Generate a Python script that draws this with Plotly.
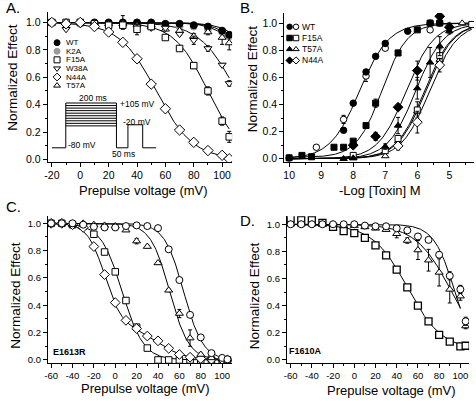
import numpy as np
import plotly.graph_objects as go

W, H = 476, 401
FONT = "Liberation Sans, Arial, sans-serif"

# ---------------- Panel A: prepulse voltage, toxin mutants ----------------
A_V = [-20, -10, 0, 10, 20, 30, 40, 50, 60, 70, 80, 90, 100, 105]
A_WT = [1.0, 0.99, 1.0, 1.0, 1.0, 1.0, 1.0, 1.0, 0.99, 0.99, 0.98, 0.97, 0.94, 0.91]
A_WT_ERR = [0, 0, 0, 0, 0, 0.05, 0, 0, 0, 0, 0, 0, 0.01, 0.01]
A_K2A = [1.0, 1.0, 0.99, 0.99, 0.98, 0.98, 0.98, 0.97, 0.98, 0.97, 0.97, 0.95, 0.93, 0.90]
A_F15A = [1.0, 1.0, 1.0, 0.99, 0.98, 0.98, 0.95, 0.97, 0.89, 0.81, 0.685, 0.50, 0.28, 0.165]
A_F15A_ERR = [0, 0, 0, 0, 0, 0, 0.04, 0, 0.015, 0.015, 0.02, 0.03, 0.03, 0.04]
A_W38A = [1.0, 0.95, 0.99, 0.99, 0.99, 0.98, 0.97, 0.96, 0.96, 0.915, 0.87, 0.81, 0.69, 0.555]
A_W38A_ERR = [0, 0, 0, 0, 0, 0, 0, 0, 0, 0.01, 0.03, 0.02, 0.01, 0.02]
A_N44A = [1.0, 0.99, 1.0, 0.97, 0.93, 0.855, 0.735, 0.55, 0.37, 0.215, 0.125, 0.065, 0.03, 0.005]
A_N44A_ERR = [0, 0, 0, 0, 0.01, 0.01, 0.01, 0.01, 0.01, 0.01, 0.01, 0.01, 0.01, 0.01]
A_T57A = [1.0, 1.0, 1.0, 1.0, 0.99, 0.99, 0.98, 0.97, 0.95, 0.94, 0.90, 0.93, 0.89, 0.85]
A_T57A_ERR = [0, 0, 0, 0, 0, 0, 0, 0, 0.01, 0.01, 0.02, 0.02, 0.05, 0.05]
# Boltzmann fit parameters (V1/2, slope)
A_FIT_WT = (131, 10)
A_FIT_K2A = (127, 10)
A_FIT_F15A = (90, 12)
A_FIT_W38A = (110, 13)
A_FIT_N44A = (53.5, 13)
A_FIT_T57A = (124, 10)
A_XTICKS = [-20, 0, 20, 40, 60, 80, 100]
A_XTICKTEXT = ["-20", "0", "20", "40", "60", "80", "100"]

# ---------------- Panel B: dose response (-log [toxin]) ----------------
B_WT_F_X = [10, 8.3, 8.0, 7.6, 7.3, 7.0, 6.3, 5.6]
B_WT_F_Y = [0.005, 0.21, 0.41, 0.64, 0.755, 0.85, 0.94, 1.0]
B_WT_O_X = [9.15, 8.3, 7.6, 7.0, 5.6, 5.3]
B_WT_O_Y = [0.085, 0.29, 0.61, 0.815, 0.95, 1.0]
B_WT_O_ERR = [0, 0.03, 0.04, 0.01, 0.01, 0.01]
B_F15A_F_X = [10, 9.6, 9.3, 8.6, 8.3, 8.0, 7.6, 7.3, 6.6, 6.0, 5.6, 5.3]
B_F15A_F_Y = [0.007, 0.025, 0.015, 0.085, 0.085, 0.13, 0.245, 0.41, 0.78, 0.95, 1.0, 1.0]
B_F15A_F_ERR = [0, 0, 0, 0, 0, 0, 0, 0.03, 0.02, 0, 0, 0]
B_F15A_O_X = [8.0, 7.0, 6.6, 6.0, 5.3, 4.3]
B_F15A_O_Y = [0.025, 0.06, 0.15, 0.36, 0.76, 0.99]
B_F15A_O_ERR = [0, 0.01, 0.02, 0.06, 0.05, 0]
B_T57A_F_X = [8.3, 8.0, 7.0, 6.6, 6.0, 5.6, 5.3, 5.0]
B_T57A_F_Y = [0.0, 0.005, 0.09, 0.245, 0.52, 0.71, 0.83, 0.94]
B_T57A_F_ERR = [0, 0, 0.02, 0.06, 0.08, 0.11, 0.07, 0.02]
B_T57A_O_X = [8.0, 7.0, 6.6, 6.0, 5.3, 4.6]
B_T57A_O_Y = [0.005, 0.02, 0.13, 0.35, 0.73, 1.0]
B_N44A_F_X = [8.0, 7.3, 6.6, 6.0, 5.3, 5.0]
B_N44A_F_Y = [0.10, 0.165, 0.38, 0.65, 1.05, 0.97]
B_N44A_F_ERR = [0, 0.03, 0.01, 0.07, 0.03, 0.03]
B_N44A_O_X = [6.6, 6.0, 5.3]
B_N44A_O_Y = [0.095, 0.27, 0.69]
B_N44A_O_ERR = [0.03, 0.08, 0.05]
# Hill fit parameters (pIC50, n, bottom)
B_FIT_WT = (7.8, 0.95, 0.0)
B_FIT_F15A_F = (7.1, 1.1, 0.01)
B_FIT_N44A_F = (6.35, 1.0, 0.0)
B_FIT_T57A_F = (6.05, 1.0, 0.0)
B_FIT_T57A_O = (5.78, 1.0, 0.0)
B_FIT_F15A_O = (5.74, 1.0, 0.0)
B_FIT_N44A_O = (5.62, 1.0, 0.0)
B_XTICKS = [10, 9, 8, 7, 6, 5]
B_XTICKTEXT = ["10", "9", "8", "7", "6", "5"]

# ---------------- Panel C: E1613R ----------------
C_V = [-60, -50, -40, -30, -20, -10, 0, 10, 20, 30, 40, 50, 60, 70, 80, 90, 100, 105]
C_CIRC = [1.0, 1.0, 1.0, 0.99, 0.975, 0.97, 0.97, 0.98, 0.985, 0.98, 0.965, 0.81, 0.585, 0.33, 0.165, 0.05, 0.015, 0.005]
C_TRI = [1.0, 1.0, 0.99, 1.0, 0.99, 0.985, 0.98, 0.95, 0.87, 0.83, 0.71, 0.51, 0.34, 0.16, 0.04, 0.015, 0.01, 0.005]
C_TRI_ERR = [0, 0.01, 0, 0.01, 0.01, 0.01, 0.01, 0.01, 0.02, 0.01, 0.01, 0.01, 0.03, 0.06, 0.01, 0, 0, 0]
C_SQ = [1.0, 1.0, 0.99, 0.98, 0.92, 0.79, 0.645, 0.435, 0.24, 0.087, 0.0, 0.0, 0.0, 0.0, 0.0, 0.0, 0.0, 0.0]
C_DIA = [1.0, 1.0, 0.99, 0.97, 0.83, 0.625, 0.42, 0.29, 0.23, 0.175, 0.14, 0.085, 0.04, 0.02, 0.01, 0.005, 0.005, 0.0]
C_FIT_CIRC = (64, 9)
C_FIT_TRI = (51, 9)
C_FIT_SQ = (6.5, 10)
C_FIT_DIA = (0.75, -10, 8, 40, 13)  # fraction, V1, k1, V2, k2
C_XTICKS = [-60, -40, -20, 0, 20, 40, 60, 80, 100]
C_XTICKTEXT = ["-60", "-40", "-20", "0", "20", "40", "60", "80", "100"]

# ---------------- Panel D: F1610A ----------------
D_V = [-60, -50, -40, -30, -20, -10, 0, 10, 20, 30, 40, 50, 60, 70, 80, 90, 100, 105]
D_CIRC = [1.0, 1.0, 1.0, 1.0, 1.0, 1.0, 1.0, 0.99, 0.985, 0.985, 0.97, 0.955, 0.91, 0.885, 0.775, 0.62, 0.52, 0.285]
D_CIRC_ERR = [0, 0, 0, 0, 0, 0, 0, 0, 0, 0, 0, 0.01, 0.02, 0.01, 0.02, 0.03, 0.03, 0.03]
D_TRI = [1.0, 1.0, 1.0, 1.0, 1.0, 0.99, 0.99, 0.98, 0.97, 0.96, 0.93, 0.88, 0.81, 0.735, 0.645, 0.52, 0.47, 0.25]
D_TRI_ERR = [0, 0, 0, 0, 0, 0, 0, 0, 0, 0, 0.03, 0.02, 0.07, 0.08, 0.1, 0.1, 0.03, 0.02]
D_SQ = [1.04, 1.03, 1.03, 1.01, 0.98, 0.95, 0.935, 0.90, 0.845, 0.77, 0.665, 0.535, 0.40, 0.285, 0.185, 0.135, 0.10, 0.105]
D_FIT_CIRC = (95, 10, 0.0)
D_FIT_TRI = (92, 17, 0.0)
D_FIT_SQ = (50, 16.5, 0.07)
D_XTICKS = C_XTICKS
D_XTICKTEXT = C_XTICKTEXT

Y_TICKS = [0.0, 0.2, 0.4, 0.6, 0.8, 1.0]
Y_TICKTEXT = ["0.0", "0.2", "0.4", "0.6", "0.8", "1.0"]


def boltz(v, vh, k, b=0.0):
    v = np.asarray(v, float)
    return b + (1 - b) / (1 + np.exp((v - vh) / k))


def boltz2(v, frac, v1, k1, v2, k2):
    v = np.asarray(v, float)
    return frac / (1 + np.exp((v - v1) / k1)) + (1 - frac) / (1 + np.exp((v - v2) / k2))


def hill(x, p, n, b=0.0):
    x = np.asarray(x, float)
    return b + (1 - b) / (1 + 10 ** (n * (x - p)))


def pxx(x):
    return x / W


def pxy(y):
    return 1 - y / H


fig = go.Figure()


def curve(x, y, ax):
    fig.add_trace(go.Scatter(x=x, y=y, mode="lines", line=dict(color="black", width=1),
                             xaxis="x" + ax, yaxis="y" + ax, showlegend=False, hoverinfo="skip"))


def pts(x, y, ax, symbol, fill="white", size=7, err=None, lw=1, lcolor="black"):
    tr = dict(x=x, y=y, mode="markers", xaxis="x" + ax, yaxis="y" + ax, showlegend=False,
              marker=dict(symbol=symbol, size=size, color=fill, line=dict(color=lcolor, width=lw)))
    if err is not None:
        tr["error_y"] = dict(type="data", array=err, visible=True, color="black", thickness=1, width=2)
    fig.add_trace(go.Scatter(**tr))


# ---- Panel A ----
vA = np.linspace(-20, 105, 250)
for p in (A_FIT_WT, A_FIT_K2A, A_FIT_F15A, A_FIT_W38A, A_FIT_N44A, A_FIT_T57A):
    curve(vA, boltz(vA, *p), "")
pts(A_V, A_K2A, "", "circle", fill="#9a9a9a", lcolor="#9a9a9a")
pts(A_V, A_WT, "", "circle", fill="black", err=A_WT_ERR)
pts(A_V, A_T57A, "", "triangle-up", size=7, err=A_T57A_ERR)
pts(A_V, A_W38A, "", "triangle-down", size=7, err=A_W38A_ERR)
pts(A_V, A_F15A, "", "square", size=6.5, err=A_F15A_ERR)
pts(A_V, A_N44A, "", "diamond", size=8, err=A_N44A_ERR)

# ---- Panel B ----
xB = np.linspace(10, 4.3, 250)
for p in (B_FIT_WT, B_FIT_F15A_F, B_FIT_N44A_F, B_FIT_T57A_F, B_FIT_T57A_O, B_FIT_F15A_O, B_FIT_N44A_O):
    curve(xB, hill(xB, *p), "2")
pts(B_T57A_O_X, B_T57A_O_Y, "2", "triangle-up", size=6.5)
pts(B_F15A_O_X, B_F15A_O_Y, "2", "square", size=6, err=B_F15A_O_ERR)
pts(B_N44A_O_X, B_N44A_O_Y, "2", "diamond", size=7.5, err=B_N44A_O_ERR)
pts(B_WT_O_X, B_WT_O_Y, "2", "circle", size=6.5, err=B_WT_O_ERR)
pts(B_T57A_F_X, B_T57A_F_Y, "2", "triangle-up", fill="black", size=6.5, err=B_T57A_F_ERR)
pts(B_F15A_F_X, B_F15A_F_Y, "2", "square", fill="black", size=6, err=B_F15A_F_ERR)
pts(B_N44A_F_X, B_N44A_F_Y, "2", "diamond", fill="black", size=7.5, err=B_N44A_F_ERR)
pts(B_WT_F_X, B_WT_F_Y, "2", "circle", fill="black", size=6.5)

# ---- Panel C ----
vC = np.linspace(-60, 105, 250)
curve(vC, boltz(vC, *C_FIT_CIRC), "3")
curve(vC, boltz(vC, *C_FIT_TRI), "3")
curve(vC, boltz(vC, *C_FIT_SQ), "3")
curve(vC, boltz2(vC, *C_FIT_DIA), "3")
pts(C_V, C_SQ, "3", "square", size=6.5)
pts(C_V, C_DIA, "3", "diamond", size=7.5)
pts(C_V, C_TRI, "3", "triangle-up", size=7, err=C_TRI_ERR)
pts(C_V, C_CIRC, "3", "circle", size=7)

# ---- Panel D ----
vD = np.linspace(-60, 100, 250)
curve(vD, boltz(vD, *D_FIT_CIRC), "4")
curve(vD, boltz(vD, *D_FIT_TRI), "4")
curve(vD, boltz(vD, *D_FIT_SQ), "4")
pts(D_V, D_SQ, "4", "square", size=7, lw=1.3)
pts(D_V, D_TRI, "4", "triangle-up", size=7, err=D_TRI_ERR)
pts(D_V, D_CIRC, "4", "circle", size=7, err=D_CIRC_ERR)

# ---- Legends (pixel overlay axis) ----
A_LEG_NAMES = ["WT", "K2A", "F15A", "W38A", "N44A", "T57A"]
a_leg_sym = ["circle", "circle", "square", "triangle-down", "diamond", "triangle-up"]
a_leg_fill = ["black", "#9a9a9a", "white", "white", "white", "white"]
a_leg_line = ["black", "#9a9a9a", "black", "black", "black", "black"]
a_rows = [43 + 8.65 * i for i in range(6)]
for i, nm in enumerate(A_LEG_NAMES):
    fig.add_trace(go.Scatter(x=[53.5], y=[a_rows[i]], mode="markers", xaxis="x5", yaxis="y5",
                             showlegend=False, hoverinfo="skip",
                             marker=dict(symbol=a_leg_sym[i], size=6, color=a_leg_fill[i],
                                         line=dict(color=a_leg_line[i], width=1))))
    fig.add_annotation(x=61, y=a_rows[i], xref="x5", yref="y5", text=nm, showarrow=False,
                       xanchor="left", yanchor="middle", font=dict(family=FONT, size=8, color="black"))

B_LEG_NAMES = ["WT", "F15A", "T57A", "N44A"]
b_leg_sym = ["circle", "square", "triangle-up", "diamond"]
b_rows = [27 + 11.3 * i for i in range(4)]
for i, nm in enumerate(B_LEG_NAMES):
    fig.add_trace(go.Scatter(x=[288, 294.5], y=[b_rows[i], b_rows[i]], mode="markers", xaxis="x5", yaxis="y5",
                             showlegend=False, hoverinfo="skip",
                             marker=dict(symbol=b_leg_sym[i], size=5.5, color=["black", "white"],
                                         line=dict(color="black", width=1))))
    fig.add_annotation(x=299, y=b_rows[i], xref="x5", yref="y5", text=nm, showarrow=False,
                       xanchor="left", yanchor="middle", font=dict(family=FONT, size=8.5, color="black"))

# ---- Pulse protocol inset in panel A (axis coordinates) ----
base = 0.085
x0, xs, xe, xt0, xt1, xend = -20, -10.2, 25.5, 33.6, 44, 53.5
lv_top, lv_bot, nlev = 0.412, 0.245, 10
ln = dict(color="black", width=1)
segs = [(x0, base, xs, base), (xs, base, xs, lv_top), (xe, lv_top, xe, base),
        (xe, base, xt0, base), (xt0, base, xt0, lv_bot + 0.008), (xt0, lv_bot + 0.008, xt1, lv_bot + 0.008),
        (xt1, lv_bot + 0.008, xt1, base), (xt1, base, xend, base)]
for i in range(nlev):
    yy = lv_bot + (lv_top - lv_bot) * i / (nlev - 1)
    segs.append((xs, yy, xe, yy))
for (a, b, c, d) in segs:
    fig.add_shape(type="line", x0=a, y0=b, x1=c, y1=d, xref="x", yref="y", line=ln)
inset_txt = [("200 ms", 9.2, 0.45, "center"), ("+105 mV", 26.3, 0.405, "left"),
             ("-20 mV", 40, 0.275, "center"), ("-80 mV", 1.5, 0.103, "center"),
             ("50 ms", 30.2, 0.043, "center")]
for t, xx, yy, anc in inset_txt:
    fig.add_annotation(x=xx, y=yy, xref="x", yref="y", text=t, showarrow=False, xanchor=anc,
                       yanchor="middle", font=dict(family=FONT, size=8.5, color="black"))

# ---- Texts: panel labels, axis titles, mutant names ----
def label(text, x, y, size, angle=0, bold=False, anchor="center"):
    fig.add_annotation(x=pxx(x), y=pxy(y), xref="paper", yref="paper",
                       text=("<b>%s</b>" % text) if bold else text, showarrow=False, textangle=angle,
                       xanchor=anchor, yanchor="middle", font=dict(family=FONT, size=size, color="black"))

label("A.", 0, 8, 15, anchor="left")
label("B.", 236, 8, 15, anchor="left")
label("C.", 0, 208, 15, anchor="left")
label("D.", 236, 222, 15, anchor="left")
label("Prepulse voltage (mV)", 140.5, 191.5, 13)
label("-Log [Toxin] M", 379, 191.5, 13)
label("Prepulse voltage (mV)", 143, 391.5, 13)
label("Prepulse voltage (mV)", 391, 393, 13)
label("Normalized Effect", 8.5, 78, 13.5, angle=-90)
label("Normalized Effect", 251, 79, 13.5, angle=-90)
label("Normalized Effect", 12, 297, 13.5, angle=-90)
label("Normalized Effect", 252.5, 298, 13.5, angle=-90)
label("E1613R", 66.5, 355, 9, bold=True)
label("F1610A", 304.5, 354, 9, bold=True)


def axis(domain, rng, tickvals, ticktext, minor_dtick, anchor, fs=10.5):
    return dict(domain=domain, range=rng, tickmode="array", tickvals=tickvals, ticktext=ticktext,
                ticks="outside", ticklen=4, tickwidth=1, tickcolor="black",
                showline=True, linecolor="black", linewidth=1, showgrid=False, zeroline=False,
                tickfont=dict(family=FONT, size=fs, color="black"), anchor=anchor,
                minor=dict(ticks="outside", ticklen=2, tickwidth=1, tickcolor="black",
                           dtick=minor_dtick, tick0=0, showgrid=False))


fig.update_layout(
    width=W, height=H, margin=dict(l=0, r=0, t=0, b=0),
    paper_bgcolor="white", plot_bgcolor="rgba(0,0,0,0)", showlegend=False,
    xaxis=axis([pxx(44), pxx(230)], [-23, 107], A_XTICKS, A_XTICKTEXT, 10, "y"),
    yaxis=axis([pxy(163), pxy(12)], [-0.017, 1.077], Y_TICKS, Y_TICKTEXT, 0.1, "x"),
    xaxis2=axis([pxx(282.7), pxx(474)], [10.15, 4.23], B_XTICKS, B_XTICKTEXT, 0.5, "y2"),
    yaxis2=axis([pxy(163), pxy(13)], [-0.022, 1.075], Y_TICKS, Y_TICKTEXT, 0.1, "x2"),
    xaxis3=axis([pxx(44.3), pxx(230)], [-63, 109.3], C_XTICKS, C_XTICKTEXT, 10, "y3", fs=9.5),
    yaxis3=axis([pxy(365.7), pxy(218)], [-0.022, 1.051], Y_TICKS, Y_TICKTEXT, 0.1, "x3", fs=9.5),
    xaxis4=axis([pxx(285.3), pxx(469)], [-63.5, 108.2], D_XTICKS, D_XTICKTEXT, 10, "y4", fs=9.5),
    yaxis4=axis([pxy(365.7), pxy(218)], [-0.022, 1.058], Y_TICKS, Y_TICKTEXT, 0.1, "x4", fs=9.5),
    xaxis5=dict(domain=[0, 1], range=[0, W], visible=False, anchor="y5", fixedrange=True),
    yaxis5=dict(domain=[0, 1], range=[H, 0], visible=False, anchor="x5", fixedrange=True),
)

fig.write_html("out.html", config={"displayModeBar": False},
               post_script="document.body.style.margin='0px';document.body.style.overflow='hidden';")
